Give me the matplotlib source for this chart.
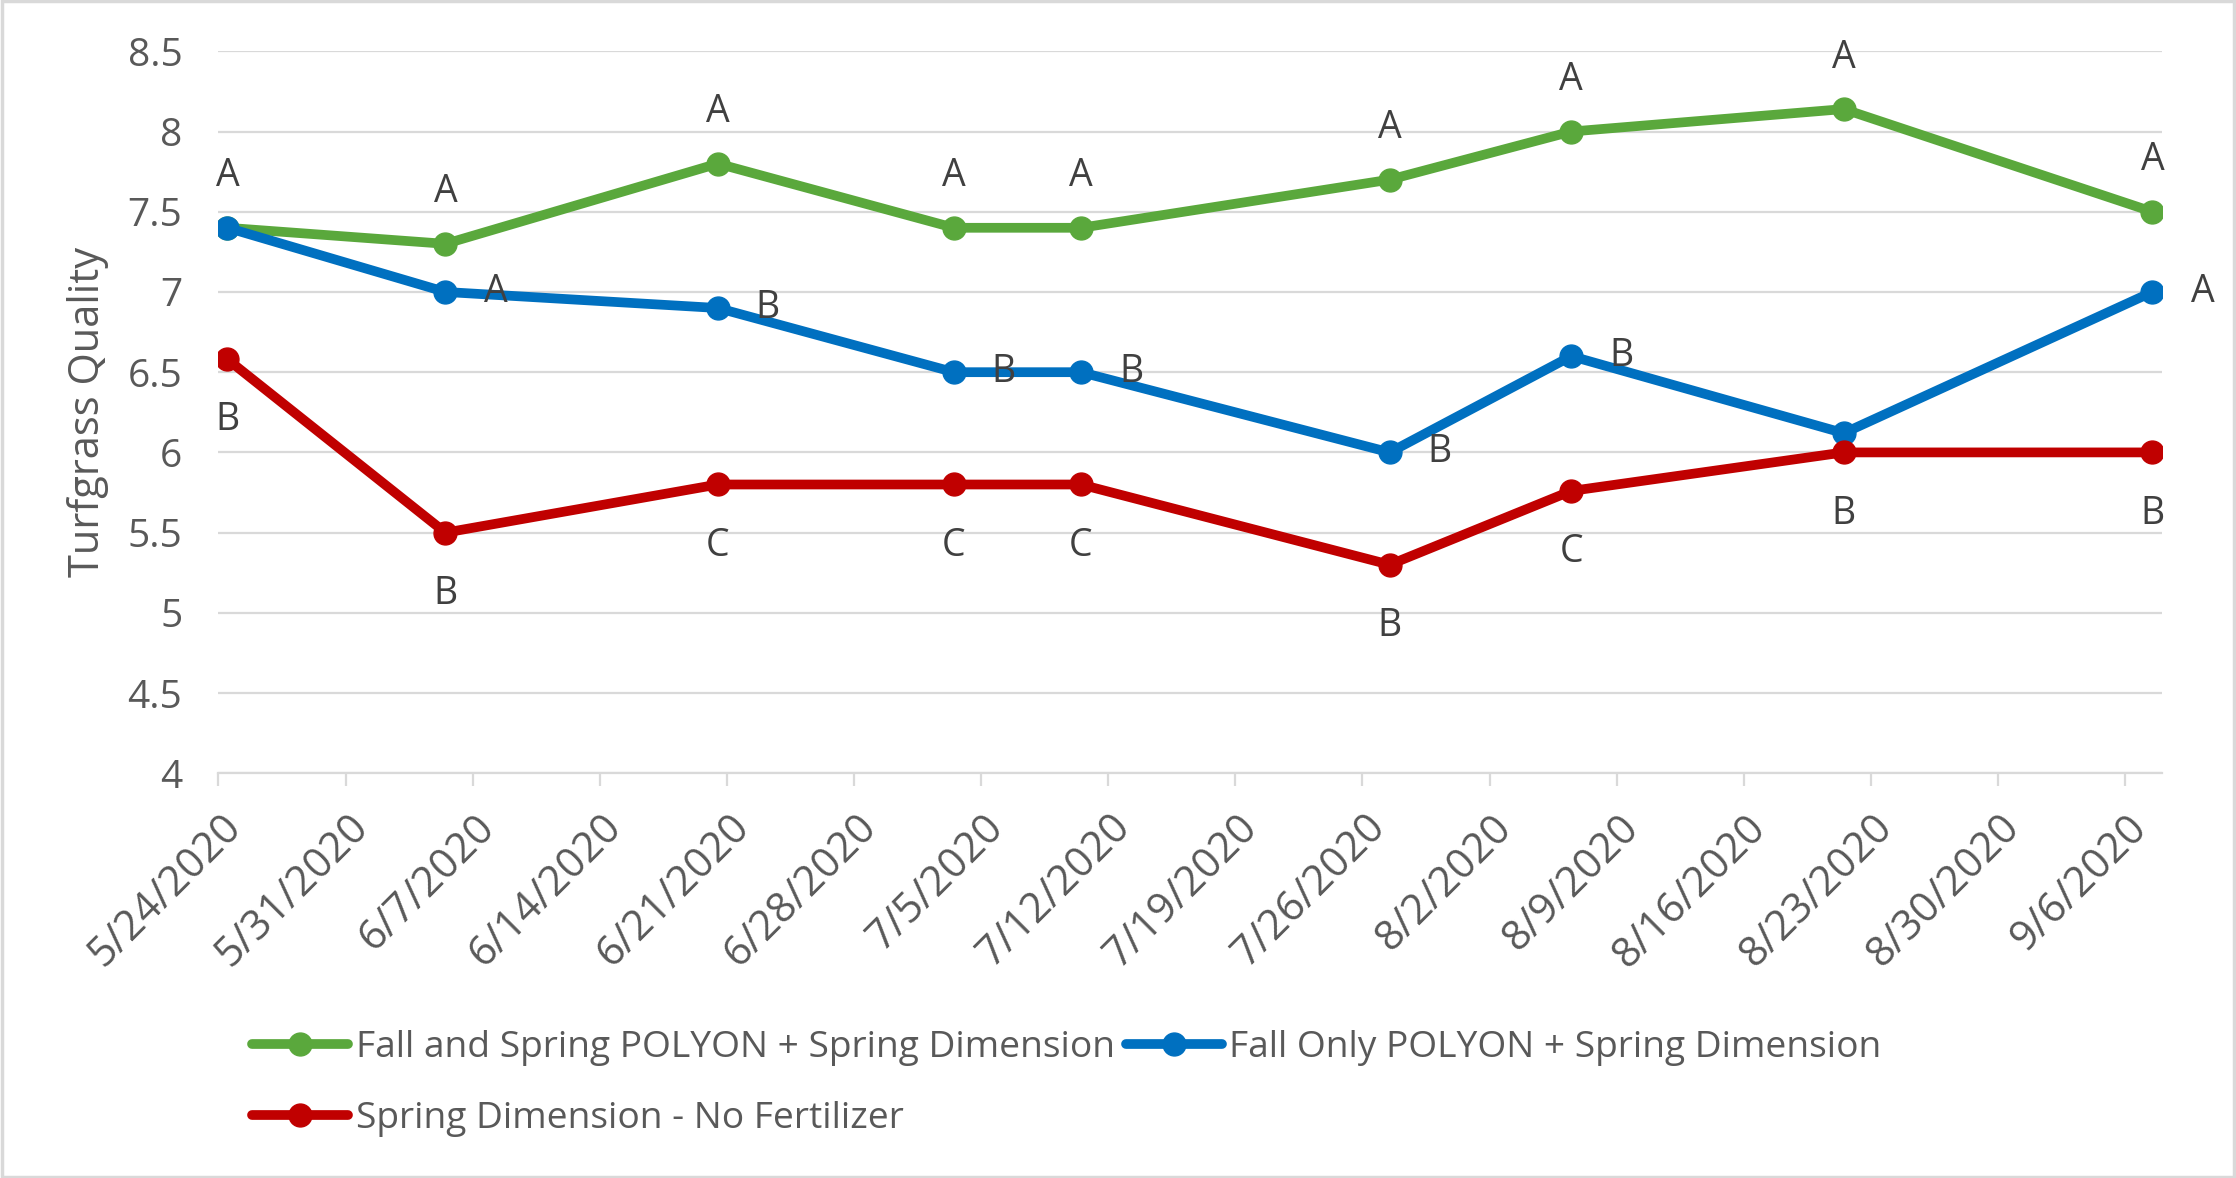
"""
Turfgrass quality over the 2020 season, three fertilizer programs.
"""

import matplotlib
matplotlib.use('Agg')
import matplotlib.pyplot as plt
import matplotlib.dates as mdates
from matplotlib.patches import Rectangle
from matplotlib.transforms import ScaledTranslation
import pandas as pd

# rating dates (Excel puts each point in the middle of its day)
dates = ['2020-05-24', '2020-06-05', '2020-06-20', '2020-07-03', '2020-07-10',
         '2020-07-27', '2020-08-06', '2020-08-21', '2020-09-07']

fall_spring = [7.4, 7.3, 7.8, 7.4, 7.4, 7.7, 8.0, 8.14, 7.5]
fall_only = [7.4, 7.0, 6.9, 6.5, 6.5, 6.0, 6.6, 6.12, 7.0]
no_fert = [6.58, 5.5, 5.8, 5.8, 5.8, 5.3, 5.76, 6.0, 6.0]

# mean separation letters
fall_spring_letters = ['A', 'A', 'A', 'A', 'A', 'A', 'A', 'A', 'A']
fall_only_letters = ['', 'A', 'B', 'B', 'B', 'B', 'B', '', 'A']
no_fert_letters = ['B', 'B', 'C', 'C', 'C', 'B', 'C', 'B', 'B']

labels = ['Fall and Spring POLYON + Spring Dimension',
          'Fall Only POLYON + Spring Dimension',
          'Spring Dimension - No Fertilizer']
colors = ['#5AA83C', '#0070C0', '#C00000']

x_start = '2020-05-24'
x_end = '2020-09-08'
tick_start = '2020-05-24'
tick_end = '2020-09-06'

GRID = '#D9D9D9'
TXT = '#595959'
LBL = '#404040'


def draw(path: str) -> None:
    plt.rcParams['font.family'] = ['Open Sans', 'DejaVu Sans']
    fig = plt.figure(figsize=(22.36, 11.78), dpi=100)
    ax = fig.add_axes([218.4 / 2236, 1 - 773.3 / 1178,
                       (2161.5 - 218.4) / 2236, (773.3 - 51.3) / 1178])

    x = pd.to_datetime(dates) + pd.Timedelta(hours=12)
    series = [fall_spring, fall_only, no_fert]
    letters = [fall_spring_letters, fall_only_letters, no_fert_letters]
    # where each series puts its letters, in points
    offsets = [(0, 37), (36, 0), (0, -44)]

    handles = []
    for ys, lab, c, lets, off in zip(series, labels, colors, letters, offsets):
        h, = ax.plot(x, ys, color=c, lw=7, marker='o', ms=16.5,
                     solid_capstyle='round', solid_joinstyle='round',
                     label=lab, zorder=3)
        handles.append(h)
        for xi, yi, t in zip(x, ys, lets):
            if not t:
                continue
            ax.annotate(t, (xi, yi), xytext=off, textcoords='offset points',
                        ha='center', va='center', fontsize=27, color=LBL,
                        zorder=4)

    ax.set_xlim(pd.Timestamp(x_start), pd.Timestamp(x_end))
    ax.set_ylim(4, 8.5)
    ax.set_yticks([4 + 0.5 * i for i in range(10)])
    ax.yaxis.set_major_formatter(plt.FuncFormatter(lambda v, p: f'{v:g}'))
    ax.grid(axis='y', color=GRID, lw=1.6)
    ax.set_axisbelow(True)
    for s in ['top', 'right', 'left']:
        ax.spines[s].set_visible(False)
    ax.spines['bottom'].set_color(GRID)
    ax.spines['bottom'].set_linewidth(1.6)

    ticks = pd.date_range(tick_start, tick_end, freq='7D')
    ax.set_xticks(ticks)
    ax.xaxis.set_major_formatter(mdates.DateFormatter('%-m/%-d/%Y'))
    ax.tick_params(axis='x', length=9.5, width=1.6, color=GRID, pad=25,
                   labelsize=30, labelcolor=TXT)
    ax.tick_params(axis='y', length=0, pad=26, labelsize=28, labelcolor=TXT)
    for t in ax.get_xticklabels():
        t.set_rotation(45)
        t.set_ha('right')
        t.set_va('center')
        t.set_rotation_mode('anchor')
        t.set_transform(t.get_transform() +
                        ScaledTranslation(16 / 100, 0, fig.dpi_scale_trans))

    ax.set_ylabel('Turfgrass Quality', fontsize=30, color=TXT)
    ax.yaxis.set_label_coords(-0.0565, 0.5)

    # legend: green, red in first column, blue in second
    ordered = [handles[0], handles[2], handles[1]]
    leg = fig.legend(ordered, [h.get_label() for h in ordered], ncol=2,
                     loc='upper left', bbox_to_anchor=(251.7 / 2236, 1 - 1030 / 1178),
                     frameon=False, fontsize=26.7, handlelength=2.6,
                     handletextpad=0.2, columnspacing=0.3, labelspacing=0.95,
                     borderpad=0, borderaxespad=0)
    for t in leg.get_texts():
        t.set_color(TXT)

    fig.patches.append(Rectangle((0.001, 0.001), 0.998, 0.998,
                                 transform=fig.transFigure, fill=False,
                                 edgecolor=GRID, lw=2.5))
    fig.savefig(path, dpi=100, facecolor='white')


if __name__ == '__main__':
    draw('out.png')
